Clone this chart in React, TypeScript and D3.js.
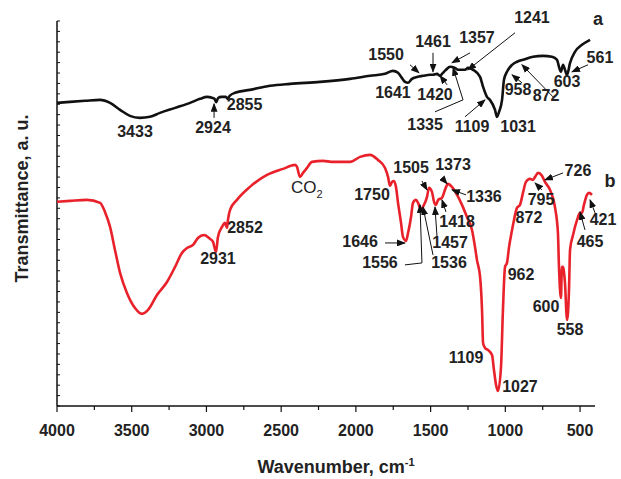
import React from 'react';
import * as d3 from 'd3';

// Curve a (black) : wavenumber (cm-1) and transmittance (a.u.)
const WN_A = [4000, 3913, 3813, 3712, 3645, 3578, 3512, 3445, 3378, 3311, 3210, 3110, 3043, 2996, 2963, 2945, 2935, 2922, 2900, 2870, 2858, 2845, 2809, 2709, 2575, 2441, 2240, 2039, 1906, 1805, 1752, 1718, 1671, 1652, 1625, 1591, 1551, 1504, 1484, 1457, 1437, 1424, 1397, 1370, 1337, 1317, 1270, 1250, 1216, 1169, 1149, 1123, 1103, 1069, 1056, 1042, 1022, 1009, 989, 955, 922, 882, 815, 748, 688, 654, 641, 628, 614, 601, 587, 567, 534, 487, 433];
const T_A = [29.13, 29.23, 29.33, 29.42, 29.13, 28.46, 27.88, 27.69, 27.79, 28.17, 28.65, 29.13, 29.52, 29.71, 29.62, 29.5, 29.2, 29.6, 29.71, 29.71, 29.5, 29.8, 30.1, 30.38, 30.77, 30.96, 31.15, 31.44, 31.73, 31.92, 32.21, 32.02, 31.15, 31.06, 31.44, 31.63, 31.73, 31.83, 31.83, 31.92, 31.73, 31.92, 32.31, 32.6, 32.5, 32.31, 32.31, 32.5, 32.31, 31.63, 30.67, 29.71, 29.42, 28.46, 27.79, 28.27, 29.42, 31.35, 32.12, 32.79, 33.08, 33.27, 33.56, 33.65, 33.56, 33.27, 32.6, 32.12, 32.79, 32.31, 31.83, 32.98, 34.04, 34.71, 35.19];

// Curve b (red)
const WN_B = [4000, 3913, 3799, 3712, 3679, 3645, 3612, 3578, 3532, 3478, 3431, 3391, 3331, 3264, 3210, 3164, 3130, 3090, 3057, 3016, 2976, 2956, 2936, 2923, 2896, 2876, 2862, 2856, 2842, 2796, 2709, 2595, 2488, 2407, 2394, 2374, 2354, 2327, 2294, 2220, 2153, 2039, 1972, 1906, 1852, 1805, 1785, 1772, 1758, 1745, 1732, 1718, 1698, 1685, 1665, 1651, 1631, 1618, 1598, 1584, 1564, 1551, 1524, 1511, 1491, 1477, 1464, 1450, 1424, 1404, 1384, 1357, 1323, 1290, 1257, 1223, 1203, 1190, 1169, 1156, 1149, 1136, 1116, 1089, 1076, 1062, 1049, 1029, 1016, 1002, 989, 975, 955, 942, 922, 902, 882, 862, 835, 815, 801, 781, 755, 735, 701, 668, 648, 641, 628, 621, 614, 601, 587, 574, 567, 547, 520, 500, 487, 474, 454, 440, 420];
const T_B = [19.62, 19.71, 19.81, 19.52, 18.65, 17.21, 15.0, 12.79, 10.87, 9.42, 8.85, 9.23, 10.67, 11.92, 13.37, 14.71, 15.19, 15.48, 16.15, 16.44, 16.06, 15.77, 14.81, 16.25, 17.21, 17.6, 17.12, 17.88, 18.85, 19.81, 21.06, 22.21, 22.79, 23.17, 22.98, 22.02, 22.4, 22.88, 23.46, 23.56, 23.46, 23.46, 23.94, 24.13, 23.65, 22.88, 22.02, 21.15, 21.54, 21.63, 21.06, 19.52, 17.6, 16.25, 15.87, 16.63, 18.17, 19.52, 19.81, 19.52, 18.85, 19.13, 20.1, 20.96, 20.58, 19.62, 19.33, 19.81, 20.0, 20.77, 21.35, 21.06, 20.29, 19.33, 18.17, 16.92, 15.29, 14.04, 12.4, 9.23, 6.06, 5.58, 5.38, 4.9, 3.46, 2.02, 1.44, 3.75, 9.23, 13.37, 13.75, 15.29, 16.92, 17.88, 19.04, 19.33, 20.48, 21.54, 21.83, 21.73, 22.02, 22.4, 22.12, 21.54, 20.77, 19.13, 16.63, 13.37, 10.38, 13.37, 13.37, 11.83, 8.27, 11.15, 15.0, 16.44, 17.88, 18.56, 18.56, 19.33, 20.29, 20.48, 20.29];

const X_MAJOR = [4000, 3500, 3000, 2500, 2000, 1500, 1000, 500];
const X_MINOR = [3750, 3250, 2750, 2250, 1750, 1250, 750];
const Y_TICKS = d3.range(0, 38);

type Ann = { text: string; x: number; y: number; arrow?: [number, number][] };

const ANN_A: Ann[] = [
  { text: '3433', x: 3478, y: 25.87 },
  { text: '2924', x: 2956, y: 26.25, arrow: [[2949, 27.69], [2949, 29.04]] },
  { text: '2855', x: 2745, y: 28.46 },
  { text: '1550', x: 1798, y: 33.27, arrow: [[1638, 32.79], [1578, 32.02]] },
  { text: '1641', x: 1752, y: 29.62 },
  { text: '1461', x: 1484, y: 34.52, arrow: [[1484, 33.94], [1484, 32.12]] },
  { text: '1357', x: 1190, y: 34.9, arrow: [[1236, 33.94], [1357, 32.98]] },
  { text: '1241', x: 822, y: 36.83, arrow: [[935, 35.87], [1250, 32.31]] },
  { text: '1420', x: 1471, y: 29.42, arrow: [[1390, 30.87], [1437, 31.73]] },
  { text: '1335', x: 1537, y: 26.54, arrow: [[1471, 28.27], [1283, 29.42], [1350, 32.5]] },
  { text: '1109', x: 1223, y: 26.35, arrow: [[1270, 27.79], [1136, 29.42]] },
  { text: '1031', x: 915, y: 26.35 },
  { text: '958', x: 915, y: 29.9, arrow: [[889, 31.06], [955, 31.83]] },
  { text: '872', x: 728, y: 29.33, arrow: [[681, 29.71], [889, 32.79]] },
  { text: '603', x: 587, y: 30.67 },
  { text: '561', x: 367, y: 32.98, arrow: [[447, 32.79], [554, 32.12]] },
];

const ANN_B: Ann[] = [
  { text: '2931', x: 2923, y: 13.65 },
  { text: '2852', x: 2742, y: 16.63 },
  { text: '1750', x: 1892, y: 19.81 },
  { text: '1505', x: 1631, y: 22.4, arrow: [[1558, 21.63], [1524, 20.77]] },
  { text: '1373', x: 1350, y: 22.69, arrow: [[1424, 21.92], [1390, 21.35]] },
  { text: '1336', x: 1143, y: 19.62, arrow: [[1263, 20.29], [1357, 20.77]] },
  { text: '1418', x: 1323, y: 17.21, arrow: [[1397, 18.65], [1424, 19.81]] },
  { text: '1646', x: 1972, y: 15.29, arrow: [[1805, 15.67], [1672, 15.67]] },
  { text: '1457', x: 1370, y: 15.19, arrow: [[1457, 16.25], [1471, 19.13]] },
  { text: '1556', x: 1839, y: 13.27, arrow: [[1672, 13.56], [1558, 13.75], [1571, 19.33]] },
  { text: '1536', x: 1377, y: 13.27, arrow: [[1484, 14.52], [1551, 19.13]] },
  { text: '1109', x: 1263, y: 4.13 },
  { text: '1027', x: 902, y: 1.35 },
  { text: '962', x: 895, y: 12.12 },
  { text: '872', x: 842, y: 17.6 },
  { text: '795', x: 761, y: 19.33, arrow: [[755, 20.77], [801, 21.44]] },
  { text: '726', x: 514, y: 22.12, arrow: [[614, 22.4], [735, 21.73]] },
  { text: '600', x: 728, y: 9.04 },
  { text: '558', x: 567, y: 6.83 },
  { text: '465', x: 433, y: 15.29, arrow: [[467, 16.92], [500, 18.65]] },
  { text: '421', x: 346, y: 17.4, arrow: [[400, 18.56], [433, 19.81]] },
];

const W = 621;
const H = 479;
const FONT = "'Liberation Sans', Arial, sans-serif";
const TXT = '#222';

export default function App() {
  const x = d3.scaleLinear().domain([4000, 400]).range([57, 595]);
  const y = d3.scaleLinear().domain([0, 37]).range([406, 21]);

  const line = d3
    .line<[number, number]>()
    .x((d) => x(d[0]))
    .y((d) => y(d[1]))
    .curve(d3.curveMonotoneX);

  const dataA: [number, number][] = WN_A.map((w, i) => [w, T_A[i]]);
  const dataB: [number, number][] = WN_B.map((w, i) => [w, T_B[i]]);
  const arrowLine = d3
    .line<[number, number]>()
    .x((d) => x(d[0]))
    .y((d) => y(d[1]));

  const renderAnn = (list: Ann[], key: string) =>
    list.map((a, i) => (
      <g key={key + i}>
        {a.arrow && (
          <path
            d={arrowLine(a.arrow) || ''}
            fill="none"
            stroke="#111"
            strokeWidth={1}
            markerEnd="url(#arrowHead)"
          />
        )}
        <text
          x={x(a.x)}
          y={y(a.y)}
          textAnchor="middle"
          fontFamily={FONT}
          fontWeight="bold"
          fontSize={16}
          fill={TXT}
        >
          {a.text}
        </text>
      </g>
    ));

  return (
    <svg
      width={W}
      height={H}
      style={{ position: 'absolute', left: 0, top: 0, background: '#fff' }}
    >
      <defs>
        <marker
          id="arrowHead"
          markerUnits="userSpaceOnUse"
          markerWidth={9}
          markerHeight={7}
          refX={8}
          refY={3.5}
          orient="auto"
        >
          <path d="M0,0 L9,3.5 L0,7 Z" fill="#111" />
        </marker>
      </defs>

      {/* axes */}
      <line x1={x(4000)} x2={x(400)} y1={y(0)} y2={y(0)} stroke="#111" strokeWidth={1.5} />
      <line x1={x(4000)} x2={x(4000)} y1={y(0)} y2={y(37)} stroke="#111" strokeWidth={1.5} />
      {X_MAJOR.map((t) => (
        <g key={'xm' + t}>
          <line x1={x(t)} x2={x(t)} y1={y(0)} y2={y(0) + 6} stroke="#111" strokeWidth={1.2} />
          <text
            x={x(t)}
            y={y(0) + 30}
            textAnchor="middle"
            fontFamily={FONT}
            fontWeight="bold"
            fontSize={16}
            fill={TXT}
          >
            {t}
          </text>
        </g>
      ))}
      {X_MINOR.map((t) => (
        <line key={'xn' + t} x1={x(t)} x2={x(t)} y1={y(0)} y2={y(0) + 4} stroke="#111" strokeWidth={1.2} />
      ))}
      {Y_TICKS.map((t) => (
        <line key={'y' + t} x1={x(4000)} x2={x(4000) + 3} y1={y(t)} y2={y(t)} stroke="#111" strokeWidth={1} />
      ))}

      {/* titles */}
      <text
        x={336}
        y={473}
        textAnchor="middle"
        fontFamily={FONT}
        fontWeight="bold"
        fontSize={18}
        fill={TXT}
      >
        Wavenumber, cm
        <tspan dy={-7} fontSize={11}>-1</tspan>
      </text>
      <text
        transform={`translate(28, ${(y(0) + y(37)) / 2 - 15}) rotate(-90)`}
        textAnchor="middle"
        fontFamily={FONT}
        fontWeight="bold"
        fontSize={18}
        fill={TXT}
      >
        Transmittance, a. u.
      </text>

      {/* curves */}
      <path d={line(dataA) || ''} fill="none" stroke="#111" strokeWidth={2.6} strokeLinejoin="round" />
      <path d={line(dataB) || ''} fill="none" stroke="#e8212b" strokeWidth={2.6} strokeLinejoin="round" />

      {/* annotations */}
      {renderAnn(ANN_A, 'a')}
      {renderAnn(ANN_B, 'b')}

      <text x={x(2434)} y={y(20.48)} fontFamily={FONT} fontSize={17} fill={TXT}>
        CO
        <tspan dy={5} fontSize={11}>2</tspan>
      </text>
      <text x={x(380)} y={y(36.63)} textAnchor="middle" fontFamily={FONT} fontWeight="bold" fontSize={18} fill={TXT}>
        a
      </text>
      <text x={x(300)} y={y(21.06)} textAnchor="middle" fontFamily={FONT} fontWeight="bold" fontSize={18} fill={TXT}>
        b
      </text>
    </svg>
  );
}
